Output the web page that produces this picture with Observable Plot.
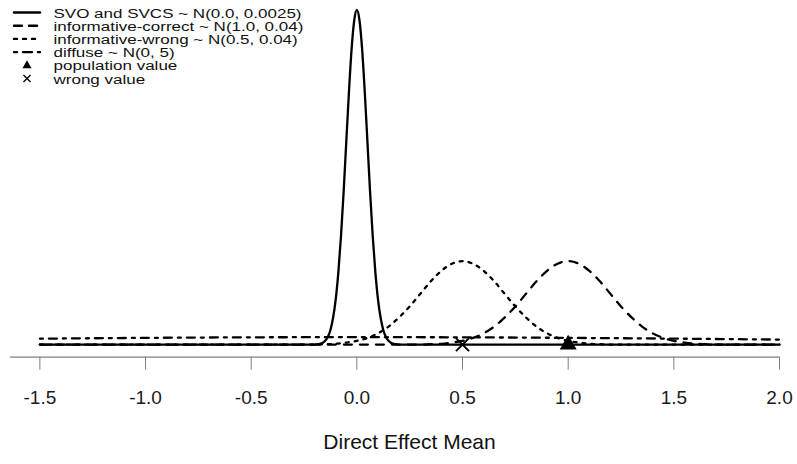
<!DOCTYPE html>
<html>
<head>
<meta charset="utf-8">
<script src="https://cdn.jsdelivr.net/npm/d3@7"></script>
<script src="https://cdn.jsdelivr.net/npm/@observablehq/plot@0.6"></script>
<style>
  html, body { margin: 0; padding: 0; background: #fff; }
  #wrap { position: relative; width: 797px; height: 464px; font-family: "Liberation Sans", Arial, Helvetica, sans-serif; }
  #legend { position: absolute; left: 0; top: 0; }
</style>
</head>
<body>
<div id="wrap"></div>
<script>
// ---------- data ----------
const xTicks = [-1.5, -1.0, -0.5, 0.0, 0.5, 1.0, 1.5, 2.0];

const svoX = [-1.5, -0.2, -0.1875, -0.175, -0.1625, -0.15, -0.1375, -0.125, -0.1125, -0.1, -0.0875, -0.075, -0.0625, -0.05, -0.0375, -0.025, -0.0125,
  0, 0.0125, 0.025, 0.0375, 0.05, 0.0625, 0.075, 0.0875, 0.1, 0.1125, 0.125, 0.1375, 0.15, 0.1625, 0.175, 0.1875, 0.2, 2.0];
const svoY = [0, 0.00, 0.01, 0.02, 0.04, 0.09, 0.18, 0.35, 0.64, 1.08, 1.73, 2.59, 3.65, 4.84, 6.02, 7.04, 7.73,
  7.98, 7.73, 7.04, 6.02, 4.84, 3.65, 2.59, 1.73, 1.08, 0.64, 0.35, 0.18, 0.09, 0.04, 0.02, 0.01, 0.00, 0];

const infCorrectX = [-1.5, 0.2, 0.25, 0.3, 0.35, 0.4, 0.45, 0.5, 0.55, 0.6, 0.65, 0.7, 0.75, 0.8, 0.85, 0.9, 0.95,
  1.0, 1.05, 1.1, 1.15, 1.2, 1.25, 1.3, 1.35, 1.4, 1.45, 1.5, 1.55, 1.6, 1.65, 1.7, 1.75, 1.8, 2.0];
const infCorrectY = [0, 0.00, 0.00, 0.00, 0.01, 0.02, 0.05, 0.09, 0.16, 0.27, 0.43, 0.65, 0.91, 1.21, 1.51, 1.76, 1.93,
  1.99, 1.93, 1.76, 1.51, 1.21, 0.91, 0.65, 0.43, 0.27, 0.16, 0.09, 0.05, 0.02, 0.01, 0.00, 0.00, 0.00, 0];

const infWrongX = [-1.5, -0.3, -0.25, -0.2, -0.15, -0.1, -0.05, 0.0, 0.05, 0.1, 0.15, 0.2, 0.25, 0.3, 0.35, 0.4, 0.45,
  0.5, 0.55, 0.6, 0.65, 0.7, 0.75, 0.8, 0.85, 0.9, 0.95, 1.0, 1.05, 1.1, 1.15, 1.2, 1.25, 1.3, 2.0];
const infWrongY = [0, 0.00, 0.00, 0.00, 0.01, 0.02, 0.05, 0.09, 0.16, 0.27, 0.43, 0.65, 0.91, 1.21, 1.51, 1.76, 1.93,
  1.99, 1.93, 1.76, 1.51, 1.21, 0.91, 0.65, 0.43, 0.27, 0.16, 0.09, 0.05, 0.02, 0.01, 0.00, 0.00, 0.00, 0];

const diffuseX = [-1.5, -1.0, -0.5, 0.0, 0.5, 1.0, 1.5, 2.0];
const diffuseY = [0.142, 0.161, 0.174, 0.178, 0.174, 0.161, 0.142, 0.120];

const populationValue = [1.0];
const wrongValue = [0.5];

const legendLabels = [
  "SVO and SVCS ~ N(0.0, 0.0025)",
  "informative-correct ~ N(1.0, 0.04)",
  "informative-wrong ~ N(0.5, 0.04)",
  "diffuse ~ N(0, 5)",
  "population value",
  "wrong value"
];
const xLabel = "Direct Effect Mean";

// ---------- build ----------
const toRows = (xs, ys) => xs.map((x, i) => ({x, y: ys[i]}));
const svo = toRows(svoX, svoY);
const infCorrect = toRows(infCorrectX, infCorrectY);
const infWrong = toRows(infWrongX, infWrongY);
const diffuse = toRows(diffuseX, diffuseY);

const axisLevel = -0.3;
const dashes = {solid: null, dashed: "8,8", dotted: "3,6", dotdash: "3,6,8,6"};
const lineOpts = (dash) => ({x: "x", y: "y", curve: "monotone-x", stroke: "black", strokeWidth: 2.3,
  strokeLinecap: "round", strokeLinejoin: "round", strokeDasharray: dash});

const chart = Plot.plot({
  width: 797,
  height: 464,
  marginLeft: 10,
  marginRight: 18,
  marginTop: 9.5,
  marginBottom: 107.3,
  style: {fontFamily: "'Liberation Sans', Arial, Helvetica, sans-serif", background: "white"},
  x: {domain: [-1.639, 2.0], axis: null, label: null},
  y: {domain: [axisLevel, 7.98], axis: null, label: null},
  marks: [
    Plot.ruleY([axisLevel], {stroke: "#808080", strokeWidth: 1.3}),
    Plot.axisX(xTicks, {anchor: "bottom", label: null, tickSize: 13, tickPadding: 20, fontSize: 19,
      stroke: "#808080", fill: "#1a1a1a", tickFormat: d => d.toFixed(1)}),
    Plot.line(diffuse, lineOpts(dashes.dotdash)),
    Plot.line(svo, lineOpts(dashes.solid)),
    Plot.line(infCorrect, lineOpts(dashes.dashed)),
    Plot.line(infWrong, lineOpts(dashes.dotted)),
    Plot.dot(populationValue, {x: d => d, y: () => 0, symbol: "triangle", r: 6.3, fill: "black", stroke: "none"}),
    Plot.dot(wrongValue, {x: d => d, y: () => 0, symbol: "times", r: 6, stroke: "black", strokeWidth: 2}),
    Plot.text([xLabel], {frameAnchor: "bottom", dx: 14.5, dy: 92, fontSize: 21, fill: "#111"})
  ]
});

const wrap = document.getElementById("wrap");
wrap.appendChild(chart);

// ---------- legend overlay (top-left, inside plot region) ----------
const ns = "http://www.w3.org/2000/svg";
const leg = document.createElementNS(ns, "svg");
leg.setAttribute("id", "legend");
leg.setAttribute("width", 330);
leg.setAttribute("height", 92);
const legendStyles = ["solid", "dashed", "dotted", "dotdash", "triangle", "times"];
const rowY0 = 12.5, rowStep = 13.2;
legendStyles.forEach((s, i) => {
  const cy = rowY0 + i * rowStep;
  if (dashes.hasOwnProperty(s)) {
    const l = document.createElementNS(ns, "line");
    l.setAttribute("x1", 14); l.setAttribute("x2", 40);
    l.setAttribute("y1", cy); l.setAttribute("y2", cy);
    l.setAttribute("stroke", "black"); l.setAttribute("stroke-width", 2.4);
    l.setAttribute("stroke-linecap", "round");
    if (dashes[s]) l.setAttribute("stroke-dasharray", s === "dashed" ? "8,7" : s === "dotted" ? "3,6" : "3,6,9,6");
    leg.appendChild(l);
  } else if (s === "triangle") {
    const p = document.createElementNS(ns, "path");
    p.setAttribute("d", `M27,${cy - 5} L31.5,${cy + 3} L22.5,${cy + 3} Z`);
    p.setAttribute("fill", "black");
    leg.appendChild(p);
  } else {
    const p = document.createElementNS(ns, "path");
    p.setAttribute("d", `M23.5,${cy - 3.5} L30.5,${cy + 3.5} M23.5,${cy + 3.5} L30.5,${cy - 3.5}`);
    p.setAttribute("stroke", "black"); p.setAttribute("stroke-width", 1.3);
    leg.appendChild(p);
  }
  const t = document.createElementNS(ns, "text");
  t.setAttribute("x", 0);
  t.setAttribute("y", 0);
  t.setAttribute("transform", `translate(53.5,${cy + 5}) scale(1.26,1)`);
  t.setAttribute("font-size", 13.5);
  t.setAttribute("font-family", "'Liberation Sans', Arial, Helvetica, sans-serif");
  t.setAttribute("fill", "#111");
  t.textContent = legendLabels[i];
  leg.appendChild(t);
});
wrap.appendChild(leg);
</script>
</body>
</html>
